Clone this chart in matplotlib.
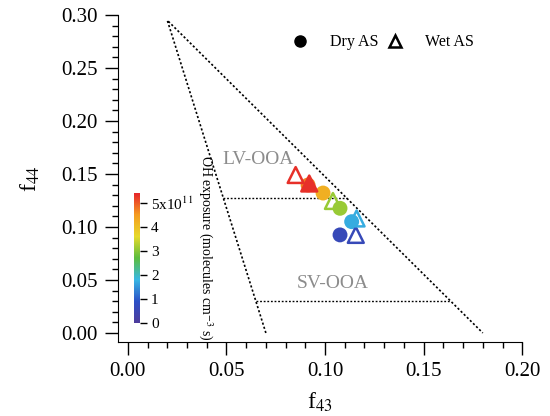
import numpy as np
import matplotlib
matplotlib.use('Agg')
import matplotlib.pyplot as plt
from matplotlib.colors import LinearSegmentedColormap, Normalize
from matplotlib.lines import Line2D

plt.rcParams['font.family'] = ['Liberation Serif', 'DejaVu Serif']
plt.rcParams['mathtext.fontset'] = 'stix'

# triangle (Ng et al.) and OOA separators
tri_x = [0.07, 0.02, 0.18]
tri_y = [0.0, 0.295, 0.0]
lv_x = [0.0485, 0.111]
lv_y = [0.127, 0.127]
sv_x = [0.065, 0.1637]
sv_y = [0.030, 0.030]

# Dry AS (circles), OH exposure in 1e11 molecules cm-3 s
dry_f43 = [0.1076, 0.1135, 0.1076, 0.0990, 0.0914]
dry_f44 = [0.0925, 0.1050, 0.1176, 0.1320, 0.1396]
dry_oh = [0.6, 1.7, 3.1, 4.2, 4.7]

# Wet AS (triangles)
wet_f43 = [0.1156, 0.1160, 0.1040, 0.0920, 0.0851]
wet_f44 = [0.0925, 0.1080, 0.1245, 0.1410, 0.1490]
wet_oh = [0.6, 1.7, 3.1, 5.3, 5.3]
wet_filled = [False, False, False, True, False]

cbar_ticks = [0, 1, 2, 3, 4, 5]
cbar_labels = ['0', '1', '2', '3', '4', '5x10$^{11}$']

cmap = LinearSegmentedColormap.from_list(
    'igor_rainbow',
    ['#4e3c9c', '#2b50c6', '#38b8e4', '#5cbd3e', '#e6da2a', '#f59b1f', '#e6252a'])
norm = Normalize(vmin=0, vmax=5.4)

fig = plt.figure(figsize=(5.5, 4.16), dpi=100)
ax = fig.add_axes([0.2145, 0.178, 0.735, 0.786])

ax.plot(tri_x, tri_y, color='black', linestyle=(0, (1.3, 1.3)), linewidth=1.2)
ax.plot(lv_x, lv_y, color='black', linestyle=(0, (1.3, 1.3)), linewidth=1.0)
ax.plot(sv_x, sv_y, color='black', linestyle=(0, (1.3, 1.3)), linewidth=1.0)

ax.text(0.066, 0.164, 'LV-OOA', color='#8c8c8c', fontsize=14, ha='center', va='center')
ax.text(0.104, 0.047, 'SV-OOA', color='#8c8c8c', fontsize=14, ha='center', va='center')

dry_c = cmap(norm(dry_oh))
ax.scatter(dry_f43, dry_f44, s=115, marker='o', c=dry_c, edgecolors='none', zorder=3)
wet_c = cmap(norm(wet_oh))
face = [wet_c[i] if wet_filled[i] else 'none' for i in range(len(wet_oh))]
ax.scatter(wet_f43, wet_f44, s=130, marker='^', facecolors=face, edgecolors=wet_c,
           linewidths=1.8, zorder=4)

handles = [Line2D([], [], marker='o', color='black', linestyle='none', markersize=8),
           Line2D([], [], marker='^', markerfacecolor='none', markeredgecolor='black',
                  markeredgewidth=1.8, color='black', linestyle='none', markersize=8)]
ax.legend(handles, ['Dry AS', 'Wet AS'], ncol=2, frameon=False, fontsize=11.5,
          loc='upper right', bbox_to_anchor=(0.916, 0.985), handletextpad=0.9,
          columnspacing=0.0)

ax.set_xlim(-0.005, 0.2)
ax.set_ylim(-0.0085, 0.30)
ax.set_xticks(np.arange(0, 0.201, 0.05))
ax.set_xticks(np.arange(0, 0.201, 0.01), minor=True)
ax.set_yticks(np.arange(0, 0.301, 0.05))
ax.set_yticks(np.arange(0, 0.301, 0.01), minor=True)
ax.set_xticklabels(['0.00', '0.05', '0.10', '0.15', '0.20'])
ax.set_yticklabels(['0.00', '0.05', '0.10', '0.15', '0.20', '0.25', '0.30'])
ax.tick_params(which='major', direction='out', length=9.5, width=1, labelsize=15, pad=5)
ax.tick_params(which='minor', direction='out', length=4.5, width=1)
ax.spines['top'].set_visible(False)
ax.spines['right'].set_visible(False)
ax.set_xlabel('f$_{43}$', fontsize=17, labelpad=7)
ax.set_ylabel('f$_{44}$', fontsize=17, labelpad=14)

cax = fig.add_axes([0.2436, 0.2236, 0.011, 0.3125])
sm = matplotlib.cm.ScalarMappable(norm=norm, cmap=cmap)
cb = fig.colorbar(sm, cax=cax, ticks=cbar_ticks)
cb.outline.set_visible(False)
cb.ax.set_yticklabels(cbar_labels)
cb.ax.tick_params(length=5, width=1, labelsize=11, pad=3)
fig.text(0.373, 0.405, 'OH exposure (molecules cm$^{-3}$ s)', rotation=270,
         fontsize=10, ha='center', va='center')

fig.savefig('out.png', dpi=100)
